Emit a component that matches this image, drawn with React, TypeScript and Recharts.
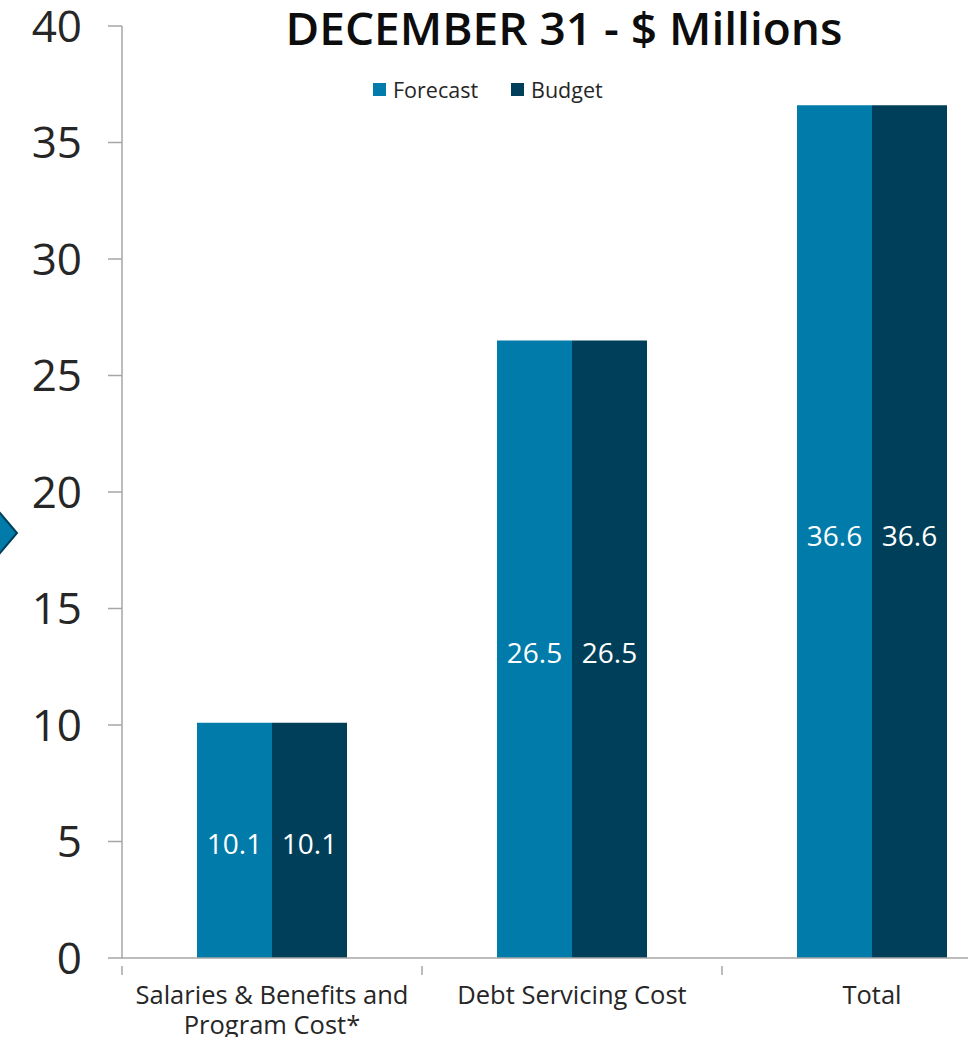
import React from 'react';
import { BarChart, Bar, XAxis, YAxis, LabelList } from 'recharts';

const categories = ['Salaries & Benefits and Program Cost*', 'Debt Servicing Cost', 'Total'];
const forecastValues = [10.1, 26.5, 36.6];
const budgetValues = [10.1, 26.5, 36.6];
const yTicks = [0, 5, 10, 15, 20, 25, 30, 35, 40];

const data = categories.map((name, i) => ({
  name,
  forecast: forecastValues[i],
  budget: budgetValues[i],
}));

const FONT = '"Open Sans", "Noto Sans", sans-serif';
const FORECAST = '#007BAA';
const BUDGET = '#003F5A';
const AXIS = '#A6A6A6';

const CHART_W = 1040;
const CHART_H = 1045;
const MARGIN = { top: 26, right: 18, bottom: 0, left: 0 };
const Y_WIDTH = 122;
const X_HEIGHT = 87;
const BAND = (CHART_W - MARGIN.left - MARGIN.right - Y_WIDTH) / categories.length;

// Excel-style category axis: tick marks sit between categories, labels wrap
const CategoryTick = (props: any) => {
  const { x, y, payload } = props;
  const text: string = payload.value;
  const lines = text.length > 24 ? ['Salaries & Benefits and', 'Program Cost*'] : [text];
  return (
    <g>
      <line x1={x - BAND / 2} y1={y} x2={x - BAND / 2} y2={y + 9} stroke={AXIS} strokeWidth={1.5} />
      {payload.index === categories.length - 1 && (
        <line x1={x + BAND / 2} y1={y} x2={x + BAND / 2} y2={y + 9} stroke={AXIS} strokeWidth={1.5} />
      )}
      <text x={x} y={y + 38} textAnchor="middle" fontSize={25.5} fill="#262626" fontFamily={FONT}>
        {lines.map((l, i) => (
          <tspan key={i} x={x} dy={i === 0 ? 0 : 30}>{l}</tspan>
        ))}
      </text>
    </g>
  );
};

export default function App() {
  return (
    <>
      <div style={{ margin: -8, width: 976, height: 1045, overflow: 'hidden', position: 'relative', background: '#fff' }}>
        <div
          style={{
            position: 'absolute', top: 4, left: 564, transform: 'translateX(-50%)', lineHeight: 1,
            fontFamily: FONT, fontWeight: 600, fontSize: 46, color: '#0d0d0d', whiteSpace: 'nowrap',
          }}
        >
          DECEMBER 31 - $ Millions
        </div>
        <div
          style={{
            position: 'absolute', top: 75, left: 373, display: 'flex', gap: 33,
            fontFamily: FONT, fontSize: 21.5, color: '#262626', zIndex: 2,
          }}
        >
          {[['Forecast', FORECAST], ['Budget', BUDGET]].map(([label, color]) => (
            <div key={label} style={{ display: 'flex', alignItems: 'center' }}>
              <span style={{ width: 13, height: 13, background: color, display: 'inline-block', marginRight: 7 }} />
              {label}
            </div>
          ))}
        </div>
        <BarChart
          width={CHART_W}
          height={CHART_H}
          data={data}
          margin={MARGIN}
          barCategoryGap="25%"
          barGap={0}
        >
          <XAxis
            dataKey="name"
            height={X_HEIGHT}
            axisLine={{ stroke: AXIS, strokeWidth: 1.5 }}
            tickLine={false}
            interval={0}
            tick={<CategoryTick />}
          />
          <YAxis
            width={Y_WIDTH}
            domain={[0, 40]}
            ticks={yTicks}
            interval={0}
            axisLine={{ stroke: AXIS, strokeWidth: 1.5 }}
            tickLine={{ stroke: AXIS, strokeWidth: 1.5 }}
            tickSize={14}
            tickMargin={26}
            tick={{ fontSize: 44, fill: '#262626', fontFamily: FONT }}
          />
          <Bar dataKey="forecast" name="Forecast" fill={FORECAST} isAnimationActive={false}>
            <LabelList dataKey="forecast" position="center" fill="#fff" fontSize={28} fontFamily={FONT} dy={4} />
          </Bar>
          <Bar dataKey="budget" name="Budget" fill={BUDGET} isAnimationActive={false}>
            <LabelList dataKey="budget" position="center" fill="#fff" fontSize={28} fontFamily={FONT} dy={4} />
          </Bar>
        </BarChart>
      </div>
      {/* slide decoration (a diamond) peeking in at the left edge */}
      <svg width={24} height={60} style={{ position: 'fixed', left: 0, top: 503, zIndex: 5 }}>
        <polygon points="-20,30 0,10 17,30 0,50" fill={FORECAST} stroke={BUDGET} strokeWidth={2} />
      </svg>
    </>
  );
}
